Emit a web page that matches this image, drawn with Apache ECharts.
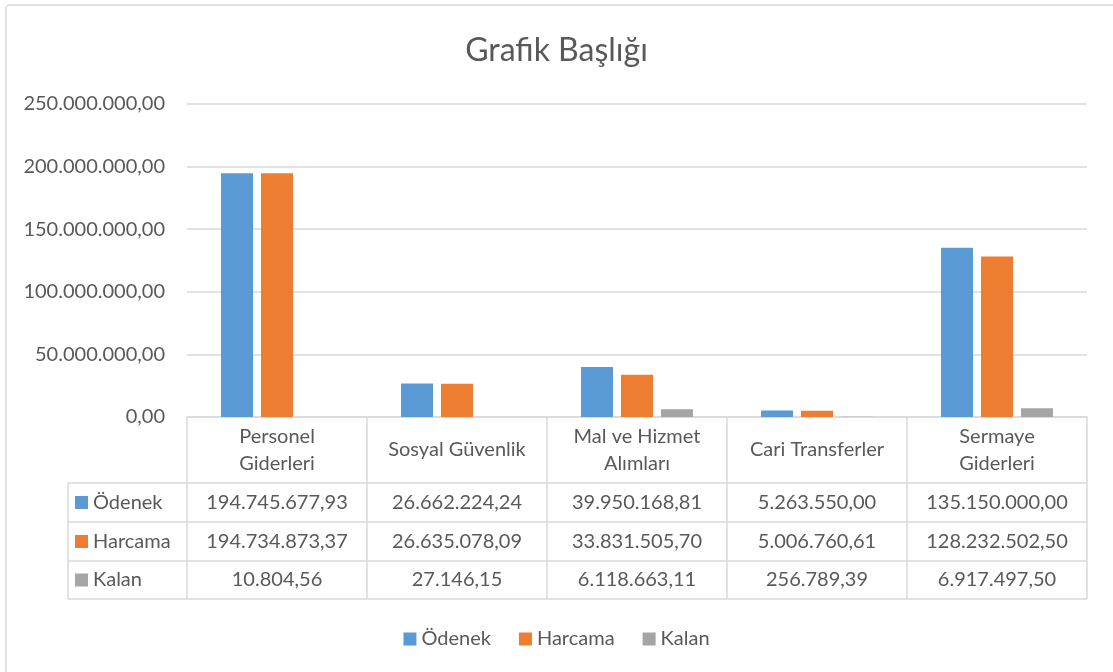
<!DOCTYPE html>
<html>
<head>
<meta charset="utf-8">
<script src="https://cdn.jsdelivr.net/npm/echarts@6/dist/echarts.min.js"></script>
<style>
  html, body { margin: 0; padding: 0; background: #fff; }
  #chart { width: 1113px; height: 672px; }
</style>
</head>
<body>
<div id="chart"></div>
<script>
const title = 'Grafik Başlığı';
const categories = ['Personel\nGiderleri', 'Sosyal Güvenlik', 'Mal ve Hizmet\nAlımları', 'Cari Transferler', 'Sermaye\nGiderleri'];
const seriesNames = ['Ödenek', 'Harcama', 'Kalan'];
const odenek = [194745677.93, 26662224.24, 39950168.81, 5263550.00, 135150000.00];
const harcama = [194734873.37, 26635078.09, 33831505.70, 5006760.61, 128232502.50];
const kalan = [10804.56, 27146.15, 6118663.11, 256789.39, 6917497.50];
const yMin = 0, yMax = 250000000, yStep = 50000000;

const colors = ['#5B9BD5', '#ED7D31', '#A5A5A5'];
const textColor = '#595959';
const lineColor = '#D9D9D9';
const FONT = 'Lato';

function fmtTR(v) {
  const p = Number(v).toFixed(2).split('.');
  return p[0].replace(/\B(?=(\d{3})+(?!\d))/g, '.') + ',' + p[1];
}

const seriesData = [odenek, harcama, kalan];

// layout (pixels)
const G_LEFT = 187, G_RIGHT = 1087, G_TOP = 104, G_BOTTOM = 417;
const ROW_Y = [483, 522, 561, 599];
const TABLE_LEFT = 68;

const rowAxes = seriesData.map((arr, i) => ({
  type: 'category',
  gridIndex: 0,
  position: 'bottom',
  data: arr.map(fmtTR),
  axisLine: { show: false },
  axisTick: { show: false },
  axisLabel: {
    interval: 0,
    margin: (ROW_Y[i] + ROW_Y[i + 1]) / 2 - G_BOTTOM,
    verticalAlign: 'middle',
    color: textColor,
    fontFamily: FONT,
    fontSize: 20
  }
}));

const graphics = [];
// horizontal table lines
ROW_Y.forEach(y => {
  graphics.push({
    type: 'line', silent: true,
    shape: { x1: TABLE_LEFT, y1: y, x2: G_RIGHT, y2: y },
    style: { stroke: lineColor, lineWidth: 1.5 }
  });
});
graphics.push({
  type: 'line', silent: true,
  shape: { x1: TABLE_LEFT, y1: ROW_Y[0], x2: TABLE_LEFT, y2: ROW_Y[3] },
  style: { stroke: lineColor, lineWidth: 1.5 }
});
// row labels with keys
seriesNames.forEach((name, i) => {
  const cy = (ROW_Y[i] + ROW_Y[i + 1]) / 2;
  graphics.push({
    type: 'rect', silent: true,
    shape: { x: 75, y: cy - 6.5, width: 13, height: 13 },
    style: { fill: colors[i] }
  });
  graphics.push({
    type: 'text', silent: true,
    style: {
      x: 93, y: cy, text: name, fill: textColor,
      font: '20px ' + FONT, textVerticalAlign: 'middle', textAlign: 'left'
    }
  });
});
// outer chart border
graphics.push({
  type: 'rect', silent: true, z: -1,
  shape: { x: 6, y: 5, width: 1130, height: 700, r: 4 },
  style: { fill: null, stroke: lineColor, lineWidth: 1.5 }
});

const option = {
  animation: false,
  color: colors,
  textStyle: { fontFamily: FONT },
  title: {
    text: title,
    left: 'center',
    top: 30,
    textStyle: { color: textColor, fontFamily: FONT, fontSize: 32, fontWeight: 'normal' }
  },
  legend: {
    data: seriesNames,
    left: 'center',
    top: 624,
    icon: 'rect',
    itemWidth: 13,
    itemHeight: 13,
    itemGap: 28,
    textStyle: { color: textColor, fontFamily: FONT, fontSize: 20 }
  },
  grid: {
    left: G_LEFT,
    right: 1113 - G_RIGHT,
    top: G_TOP,
    bottom: 672 - G_BOTTOM
  },
  xAxis: [{
    type: 'category',
    gridIndex: 0,
    position: 'bottom',
    data: categories,
    axisLine: { show: true, lineStyle: { color: lineColor, width: 1.5 } },
    axisTick: { show: true, length: ROW_Y[3] - G_BOTTOM, lineStyle: { color: lineColor, width: 1.5 } },
    axisLabel: {
      interval: 0,
      margin: (ROW_Y[0] - G_BOTTOM) / 2,
      verticalAlign: 'middle',
      lineHeight: 27,
      color: textColor,
      fontFamily: FONT,
      fontSize: 20
    }
  }].concat(rowAxes),
  yAxis: {
    type: 'value',
    min: yMin,
    max: yMax,
    interval: yStep,
    axisLine: { show: false },
    axisTick: { show: false },
    splitLine: { lineStyle: { color: lineColor, width: 1.5 } },
    axisLabel: {
      margin: 22,
      color: textColor,
      fontFamily: FONT,
      fontSize: 20,
      formatter: v => fmtTR(v)
    }
  },
  series: seriesNames.map((name, i) => ({
    name: name,
    type: 'bar',
    xAxisIndex: 0,
    data: seriesData[i],
    barGap: '25%',
    barCategoryGap: '37.8%',
    itemStyle: { color: colors[i] }
  })),
  graphic: graphics
};

const chart = echarts.init(document.getElementById('chart'), null, { renderer: 'canvas' });
chart.setOption(option);
</script>
</body>
</html>
